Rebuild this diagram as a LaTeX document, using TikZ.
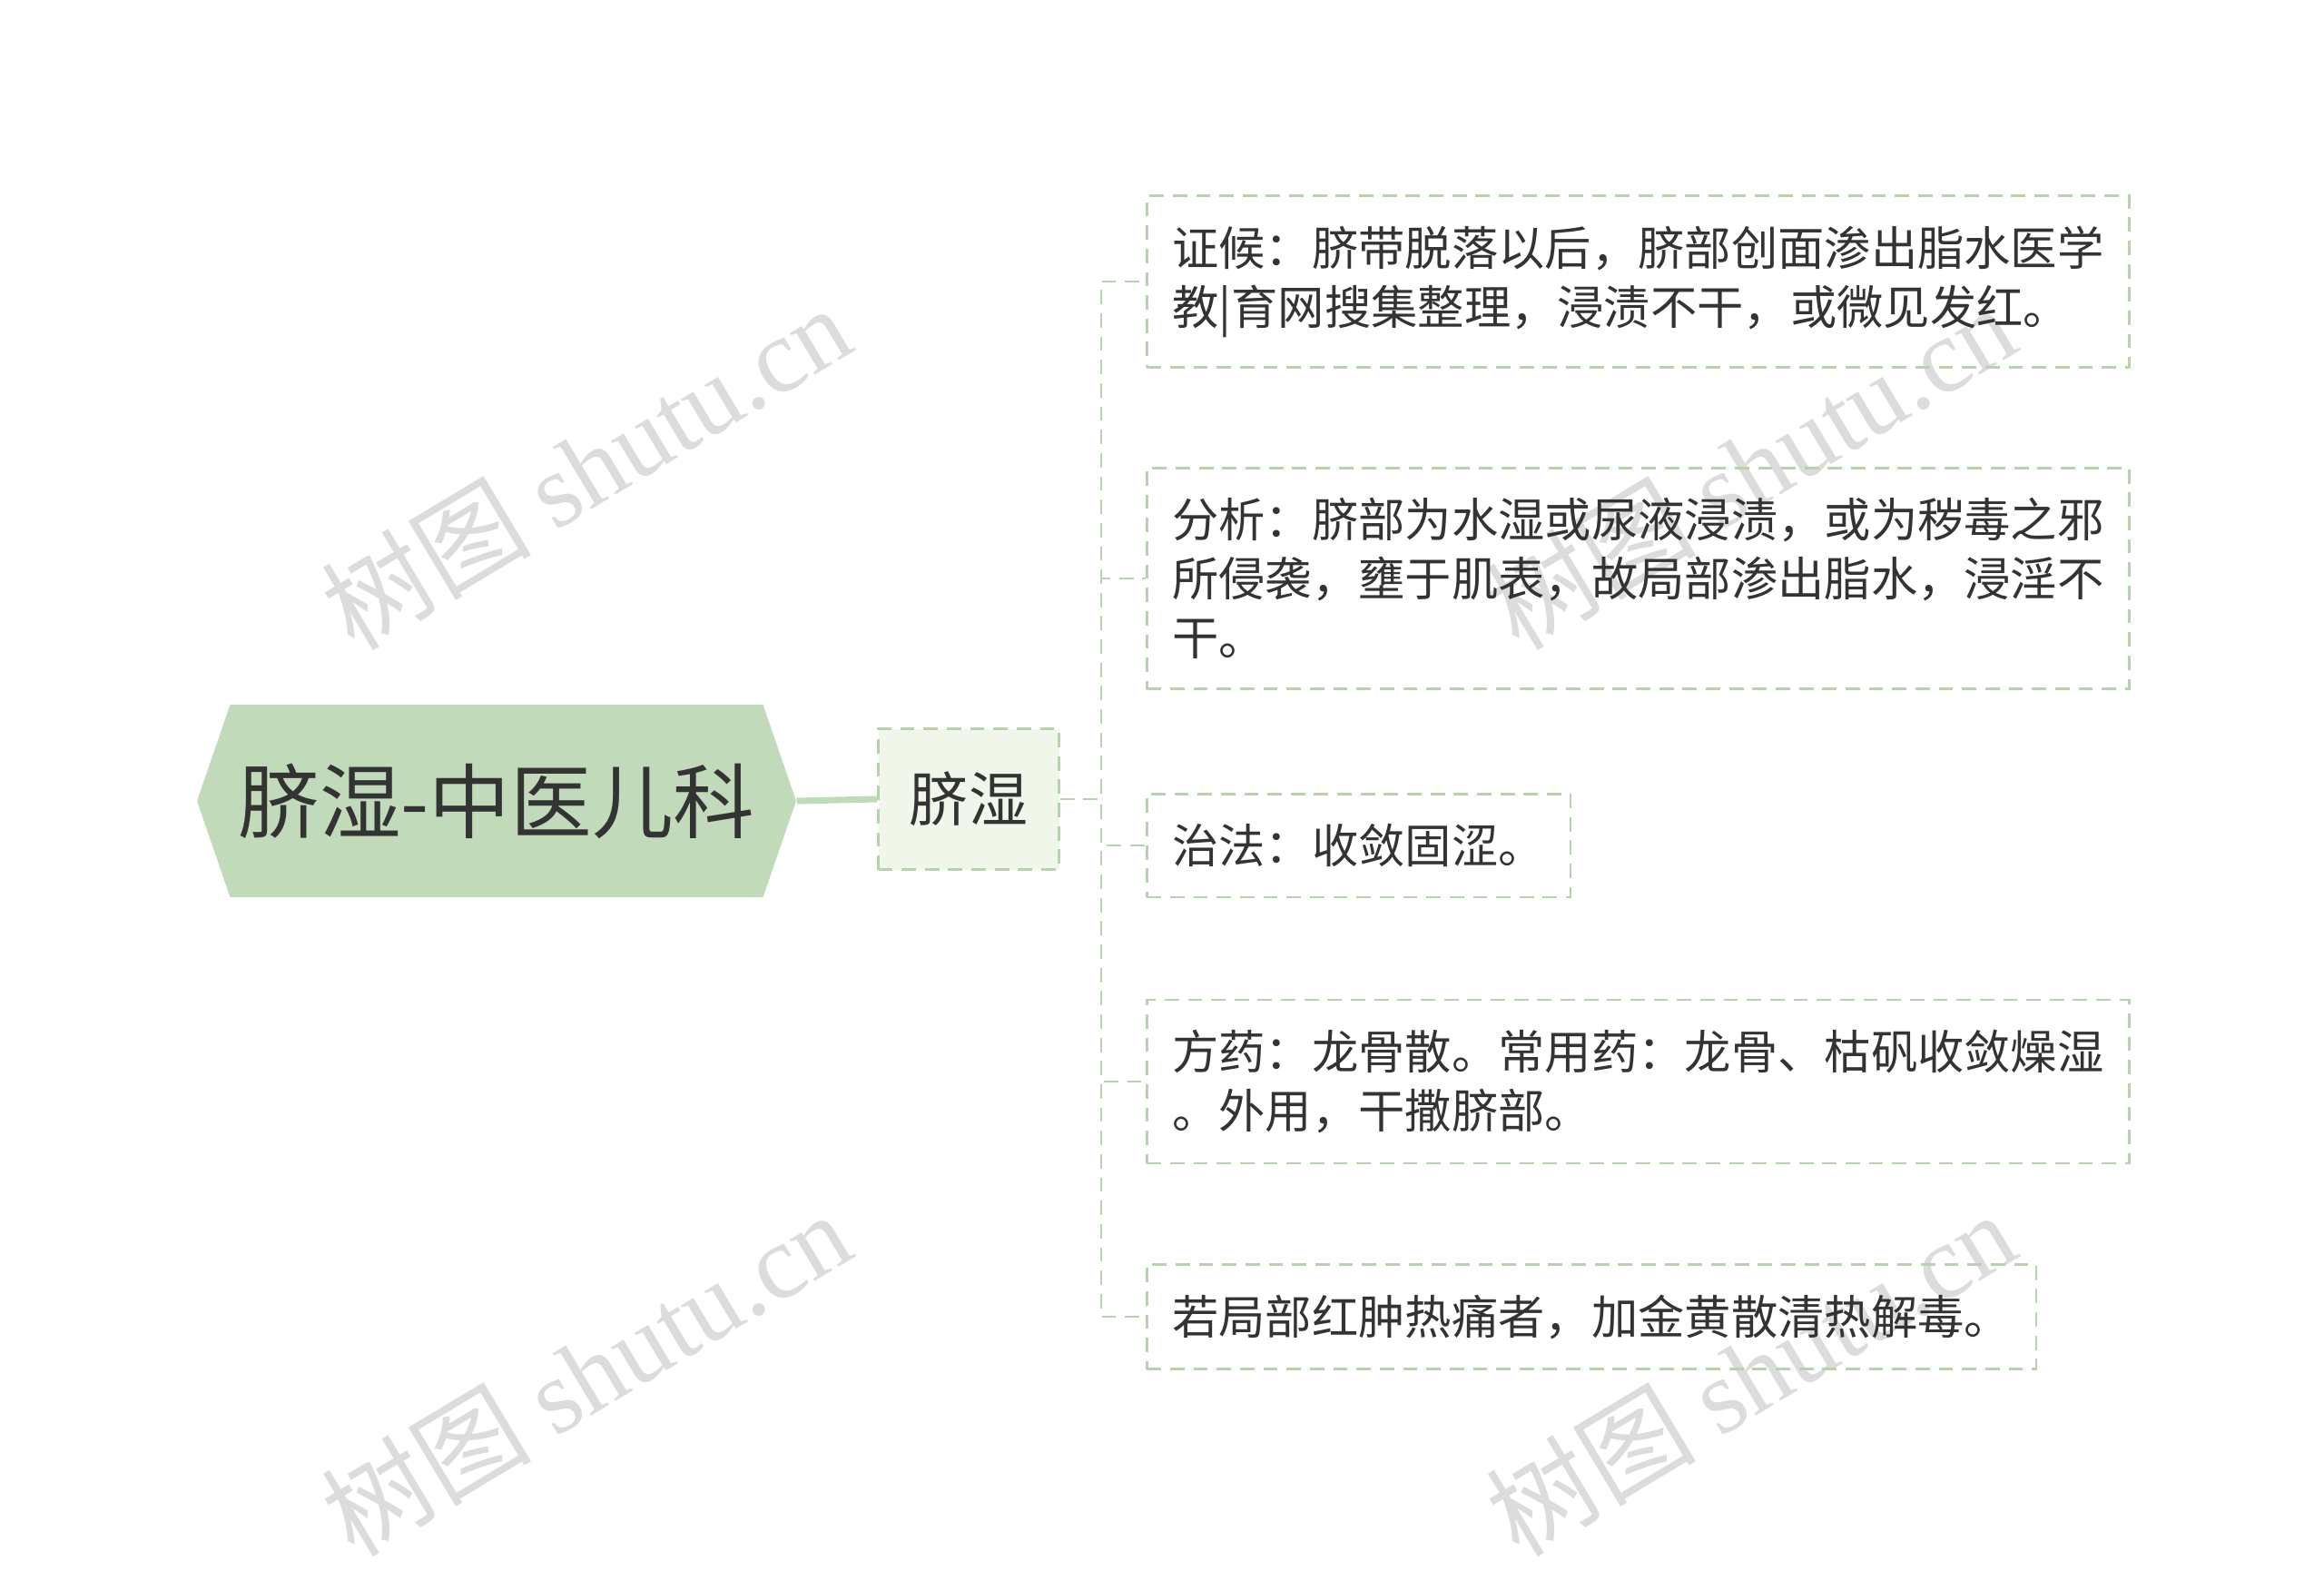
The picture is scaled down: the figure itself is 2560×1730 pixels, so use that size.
\documentclass[tikz,border=0pt]{standalone}
\usepackage{fontspec}
\setmainfont{Noto Sans CJK SC}
\newfontfamily\wmlatin{Liberation Serif}
\newfontfamily\wmcjk{Noto Sans CJK SC}
\usetikzlibrary{shapes.symbols}
\definecolor{rootfill}{HTML}{C1DBBA}
\definecolor{subfill}{HTML}{F0F7EA}
\definecolor{linegreen}{HTML}{B5D3AD}
\definecolor{txtgray}{HTML}{333333}
\definecolor{wmgray}{HTML}{DCDCDC}
\tikzset{
  rootnode/.style={signal, signal to=west and east, signal pointer angle=142,
    fill=rootfill, minimum width=6.6cm, minimum height=2.12cm, inner sep=0pt,
    font=\fontsize{25.5}{30}\selectfont, text=txtgray},
  dashline/.style={draw=linegreen, line width=0.75pt, dash pattern=on 4.5pt off 2.8pt},
  subnode/.style={dashline, fill=subfill, minimum width=1.99cm, minimum height=1.55cm,
    inner sep=0pt, font=\fontsize{18.5}{22}\selectfont, text=txtgray},
  leafnode/.style={dashline, anchor=west, align=left, inner xsep=0.28cm, inner ysep=0.33cm,
    font=\fontsize{14.6}{18.5}\selectfont, text=txtgray},
  rootlink/.style={draw=rootfill, line width=2pt},
  wmark/.style={rotate=31, text=wmgray, font=\fontsize{33}{38}\selectfont, inner sep=0pt}
}
\begin{document}
\begin{tikzpicture}[x=0.1mm, y=-0.1mm]
  \useasboundingbox[fill=white] (0,0) rectangle (2560,1730);
  % watermarks
  \node[wmark] (wma) at (645,514) {\wmcjk 树图 \wmlatin shutu.cn};
  \node[wmark] (wmb) at (1928,514) {\wmcjk 树图 \wmlatin shutu.cn};
  \node[wmark] (wmc) at (645,1512) {\wmcjk 树图 \wmlatin shutu.cn};
  \node[wmark] (wmd) at (1928,1512) {\wmcjk 树图 \wmlatin shutu.cn};
  % main topic and subtopic
  \node[rootnode] (root) at (547,882) {脐湿-中医儿科};
  \node[subnode] (sub) at (1067,880) {脐湿};
  \coordinate (spine) at (1213,880);
  % leaves
  \node[leafnode] (zheng) at (1262,310) {证候：脐带脱落以后，脐部创面渗出脂水医学\\教|育网搜集整理，浸渍不干，或微见发红。};
  \node[leafnode] (fenxi) at (1262,637) {分析：脐部为水湿或尿液浸渍，或为秽毒之邪\\所侵袭，壅于肌表，故局部渗出脂水，浸淫不\\干。};
  \node[leafnode] (zhifa) at (1262,931) {治法：收敛固涩。};
  \node[leafnode] (fangyao) at (1262,1191) {方药：龙骨散。常用药：龙骨、枯矾收敛燥湿\\。外用，干撒脐部。};
  \node[leafnode] (ruo) at (1262,1450) {若局部红肿热痛者，加金黄散清热解毒。};
  % connectors
  \draw[rootlink] (root.east) -- (sub.west);
  \foreach \leaf in {zheng,fenxi,zhifa,fangyao,ruo}
    \draw[dashline] (sub.east) -- (spine) |- (\leaf.west);
\end{tikzpicture}
\end{document}
